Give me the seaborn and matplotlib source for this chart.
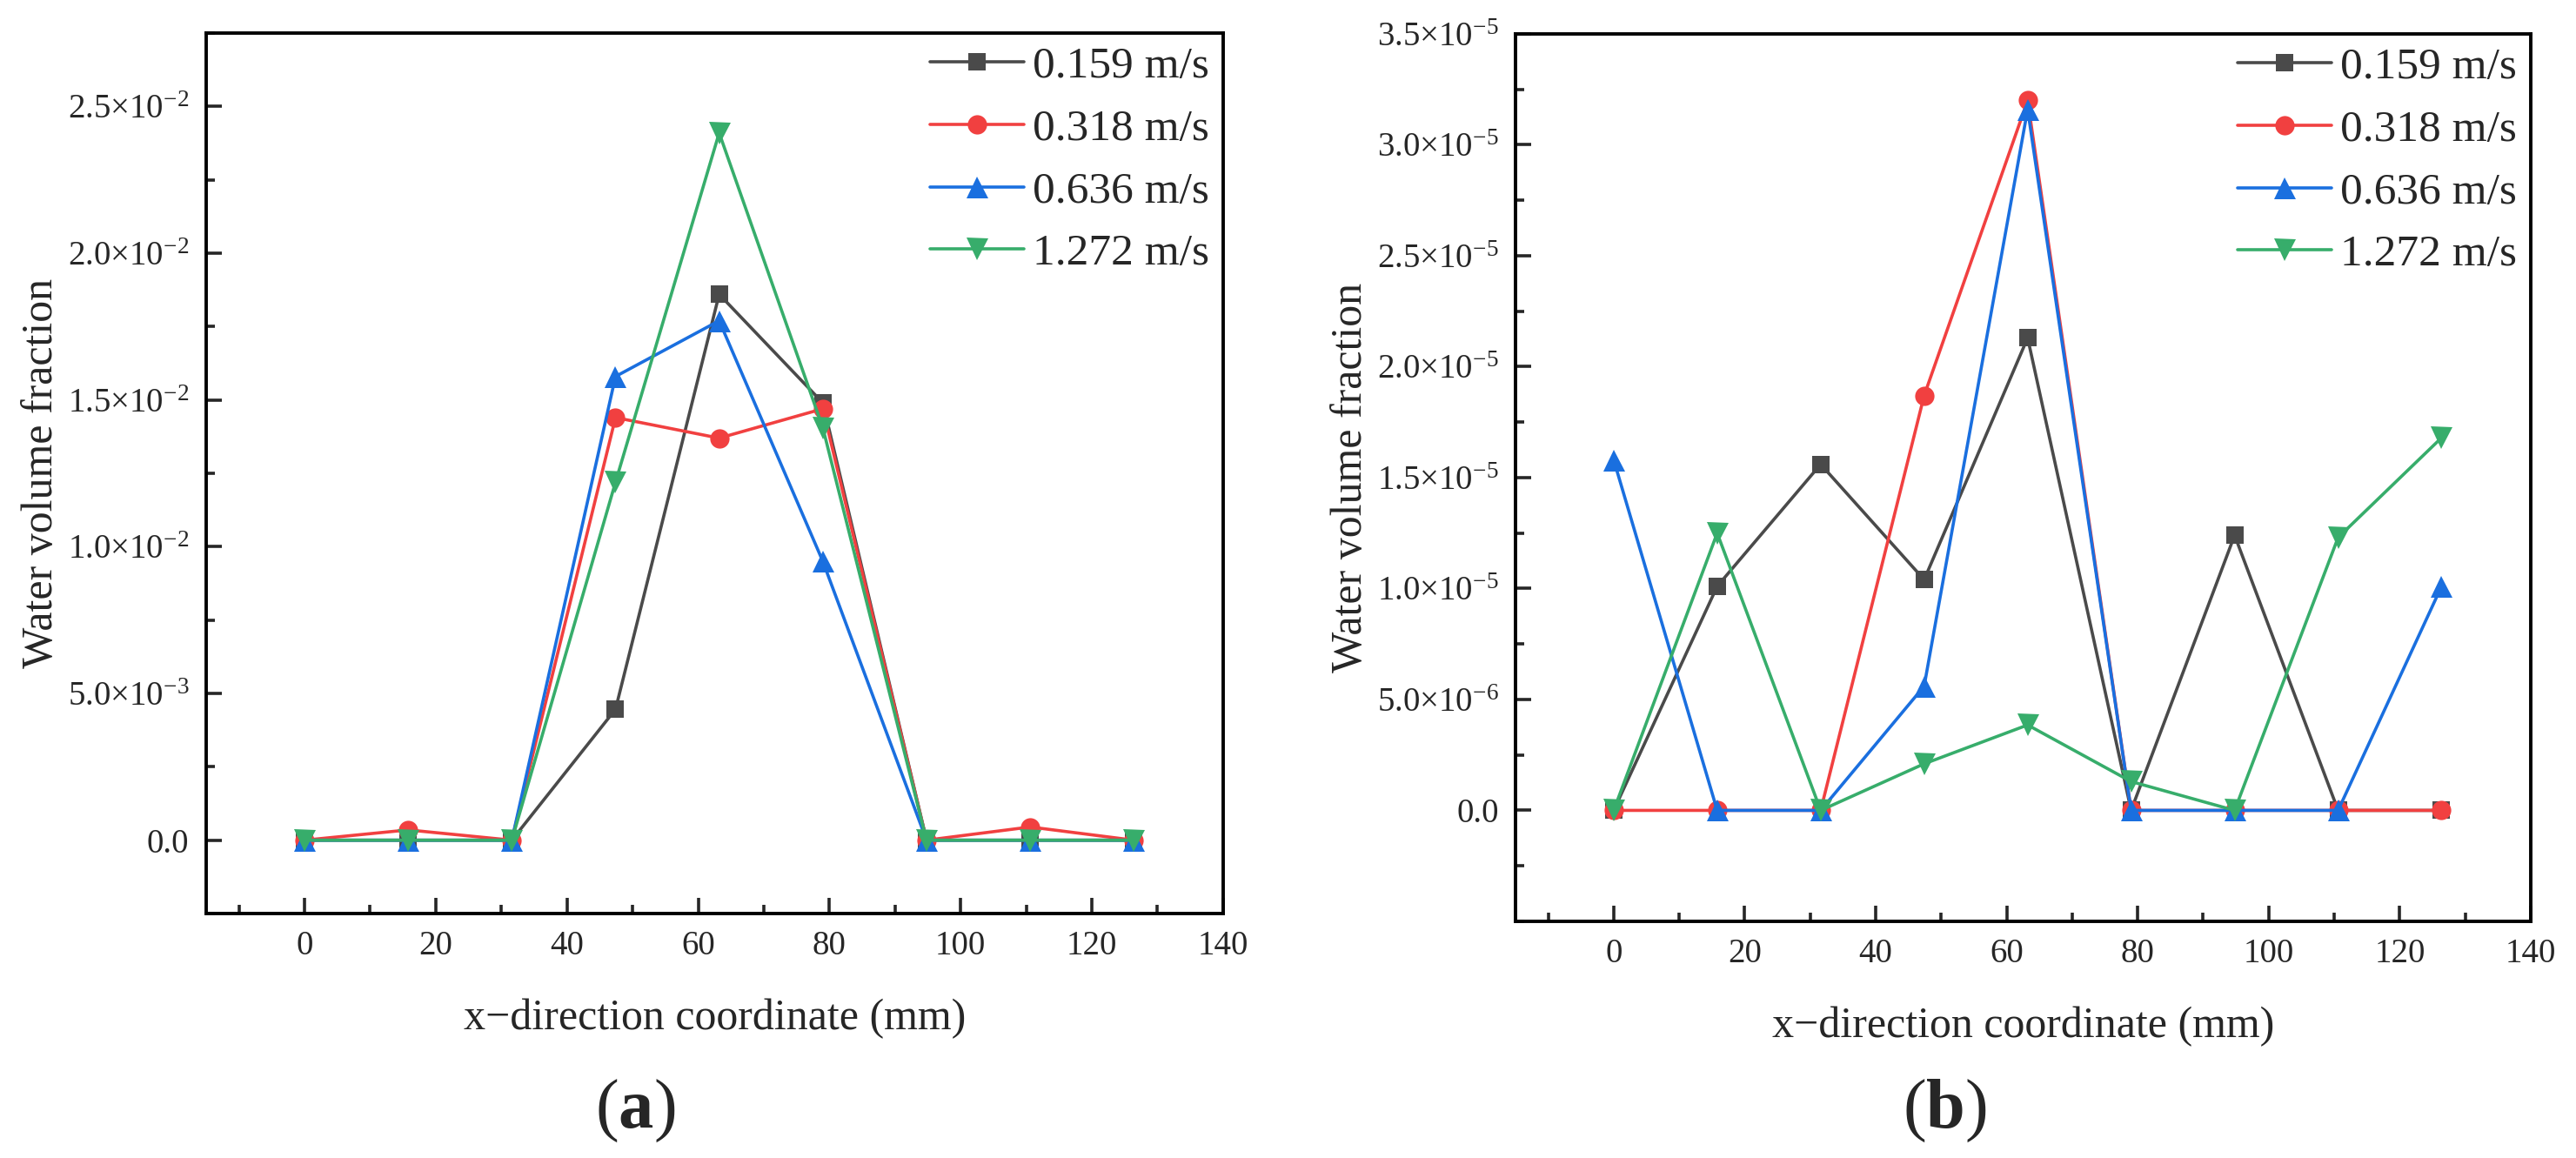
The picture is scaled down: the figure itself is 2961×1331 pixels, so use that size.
import numpy as np
import pandas as pd
import matplotlib
matplotlib.use("Agg")
import matplotlib.pyplot as plt
from matplotlib.ticker import FixedLocator, MultipleLocator
import seaborn as sns

# data
x_mm = [0, 15.8, 31.6, 47.4, 63.2, 79.0, 94.8, 110.6, 126.4]
speeds = ["0.159 m/s", "0.318 m/s", "0.636 m/s", "1.272 m/s"]

# (a) water volume fraction
a_v0159 = [0, 0, 0, 4.46e-3, 1.86e-2, 1.49e-2, 0, 0, 0]
a_v0318 = [0, 3.5e-4, 0, 1.44e-2, 1.37e-2, 1.47e-2, 0, 4.5e-4, 0]
a_v0636 = [0, 0, 0, 1.58e-2, 1.77e-2, 9.5e-3, 0, 0, 0]
a_v1272 = [0, 0, 0, 1.22e-2, 2.41e-2, 1.405e-2, 0, 0, 0]

# (b) water volume fraction
b_v0159 = [0, 1.01e-5, 1.56e-5, 1.04e-5, 2.13e-5, 0, 1.24e-5, 0, 0]
b_v0318 = [0, 0, 0, 1.87e-5, 3.2e-5, 0, 0, 0, 0]
b_v0636 = [1.58e-5, 0, 0, 5.6e-6, 3.16e-5, 0, 0, 0, 1.01e-5]
b_v1272 = [0, 1.25e-5, 0, 2.1e-6, 3.85e-6, 1.3e-6, 0, 1.23e-5, 1.68e-5]

a_yticks = [0, 5e-3, 1e-2, 1.5e-2, 2e-2, 2.5e-2]
a_ylabels = ["0.0", "5.0×10^{-3}", "1.0×10^{-2}", "1.5×10^{-2}", "2.0×10^{-2}", "2.5×10^{-2}"]
b_yticks = [0, 5e-6, 1e-5, 1.5e-5, 2e-5, 2.5e-5, 3e-5, 3.5e-5]
b_ylabels = ["0.0", "5.0×10^{-6}", "1.0×10^{-5}", "1.5×10^{-5}", "2.0×10^{-5}",
             "2.5×10^{-5}", "3.0×10^{-5}", "3.5×10^{-5}"]

colors = ["#4a4a4a", "#f14040", "#1a6fdf", "#37ad6b"]
markers = ["s", "o", "^", "v"]
msizes = [15, 16, 18, 18]

sns.set_style("ticks")
plt.rcParams["font.family"] = ["Liberation Serif", "DejaVu Serif"]
plt.rcParams["mathtext.fontset"] = "custom"
plt.rcParams["mathtext.rm"] = "Liberation Serif"
plt.rcParams["mathtext.it"] = "Liberation Serif:italic"
plt.rcParams["mathtext.bf"] = "Liberation Serif:bold"

fig = plt.figure(figsize=(29.61, 13.31), dpi=100)
ax_a = fig.add_axes([0.0800, 0.2111, 0.3948, 0.7603])
ax_b = fig.add_axes([0.5883, 0.2044, 0.3941, 0.7663])


def fmt(lbl):
    if lbl == "0.0":
        return lbl
    return r"$\mathregular{" + lbl + "}$"


def draw_panel(ax, series, yticks, ylabels, ylim, yminor):
    for vals, lab, c, m, ms in zip(series, speeds, colors, markers, msizes):
        sns.lineplot(x=x_mm, y=vals, ax=ax, color=c, marker=m, markersize=ms,
                     markeredgewidth=0, linewidth=2.6, label=lab)
    ax.set_xlim(-15, 140)
    ax.set_ylim(*ylim)
    ax.xaxis.set_major_locator(MultipleLocator(20))
    ax.xaxis.set_minor_locator(MultipleLocator(10))
    ax.yaxis.set_major_locator(FixedLocator(yticks))
    ax.set_yticklabels([fmt(t) for t in ylabels])
    ax.yaxis.set_minor_locator(MultipleLocator(yminor))
    ax.tick_params(which="both", direction="in", width=2.6, labelsize=28,
                   top=False, right=False)
    ax.tick_params(which="major", length=13, pad=14)
    ax.tick_params(which="minor", length=7)
    for sp in ax.spines.values():
        sp.set_linewidth(2.8)
        sp.set_color("black")
    ax.set_xlabel("x\u2212direction coordinate (mm)", fontsize=36, labelpad=30)
    ax.set_ylabel("Water volume fraction", fontsize=36, labelpad=5)
    ax.legend(loc="upper right", frameon=False, fontsize=37, handlelength=2.1,
              handletextpad=0.2, labelspacing=0.48, borderaxespad=0.1,
              borderpad=0.2)


draw_panel(ax_a, [a_v0159, a_v0318, a_v0636, a_v1272], a_yticks, a_ylabels,
           (-2.5e-3, 2.75e-2), 2.5e-3)
draw_panel(ax_b, [b_v0159, b_v0318, b_v0636, b_v1272], b_yticks, b_ylabels,
           (-5e-6, 3.5e-5), 2.5e-6)

fig.text(0.2465, 0.041, r"$\mathregular{(}\mathbf{a}\mathregular{)}$",
         ha="center", va="center", fontsize=58)
fig.text(0.7548, 0.041, r"$\mathregular{(}\mathbf{b}\mathregular{)}$",
         ha="center", va="center", fontsize=58)

fig.savefig("out.png", dpi=100)
